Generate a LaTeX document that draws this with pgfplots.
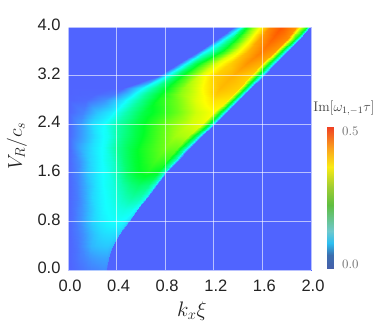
\RequirePackage{fix-cm}
\documentclass[border=0pt]{standalone}
\usepackage[no-math]{fontspec}
\setmainfont{Liberation Sans}
\usepackage{pgfplots}
\pgfplotsset{compat=1.18}
\definecolor{lab}{RGB}{35,35,35}
\pgfplotsset{
 colormap={heat}{rgb255(0pt)=(80,100,255) rgb255(18pt)=(20,255,255) rgb255(45pt)=(0,255,40) rgb255(72pt)=(255,255,0) rgb255(100pt)=(255,40,0)},
 colormap={bar}{rgb255(0pt)=(70,95,170) rgb255(10pt)=(60,110,175) rgb255(18pt)=(45,190,240) rgb255(27pt)=(110,200,205) rgb255(45pt)=(95,190,65) rgb255(58pt)=(160,205,50) rgb255(72pt)=(250,235,20) rgb255(85pt)=(250,160,30) rgb255(100pt)=(240,65,35)},
}
\begin{document}
\begin{tikzpicture}
\path[use as bounding box] (0pt,0pt) rectangle (382pt,329pt);
\begin{axis}[
 at={(68pt,59pt)},anchor=south west,
 scale only axis,width=243pt,height=243pt,
 xmin=0,xmax=2,ymin=0,ymax=4,
 view={0}{90},
 axis on top,
 colormap name=heat,point meta min=0,point meta max=0.5,
 xtick={0,0.4,0.8,1.2,1.6,2.0},ytick={0,0.8,1.6,2.4,3.2,4.0},
 xticklabels={0.0,0.4,0.8,1.2,1.6,2.0},yticklabels={0.0,0.8,1.6,2.4,3.2,4.0},
 major tick length=0pt,
 axis line style={draw=none},
 grid=major,
 major grid style={white,opacity=0.6,line width=0.9pt},
 tick label style={font=\fontsize{16.5}{18}\selectfont,text=lab},
 xticklabel style={xshift=2pt,yshift=-6pt},
 yticklabel style={yshift=2pt,xshift=-4pt},
 xlabel={$k_x\xi$},ylabel={$V_R/c_s$},
 xlabel style={font=\fontsize{21}{23}\selectfont,text=lab,at={(axis description cs:0.51,-0.169)},anchor=center},
 ylabel style={font=\fontsize{20}{22}\selectfont,text=lab,at={(axis description cs:-0.21,0.51)},anchor=center,rotate=0},
]
\addplot3[surf,shader=interp,mesh/cols=13,mesh/ordering=x varies] table {
0 0 0
0.03 0 0.002
0.06 0 0.004
0.10 0 0.008
0.13 0 0.011
0.16 0 0.014
0.19 0 0.016
0.22 0 0.018
0.26 0 0.021
0.29 0 0.023
0.312 0 0.02
0.32 0 0
2 0 0
0 0.2 0
0.034 0.2 0.004
0.068 0.2 0.008
0.10 0.2 0.014
0.136 0.2 0.02
0.17 0.2 0.026
0.2 0.2 0.03
0.24 0.2 0.034
0.27 0.2 0.036
0.31 0.2 0.037
0.332 0.2 0.032
0.34 0.2 0
2 0.2 0
0 0.4 0
0.04 0.4 0.005
0.07 0.4 0.01
0.11 0.4 0.02
0.15 0.4 0.033
0.19 0.4 0.047
0.22 0.4 0.052
0.26 0.4 0.056
0.30 0.4 0.058
0.33 0.4 0.058
0.36 0.4 0.05
0.37 0.4 0
2 0.4 0
0 0.6 0
0.04 0.6 0.007
0.09 0.6 0.016
0.13 0.6 0.028
0.17 0.6 0.043
0.21 0.6 0.056
0.26 0.6 0.066
0.3 0.6 0.07
0.34 0.6 0.072
0.39 0.6 0.07
0.42 0.6 0.06
0.43 0.6 0
2 0.6 0
0 0.8 0
0.05 0.8 0.01
0.1 0.8 0.025
0.15 0.8 0.045
0.2 0.8 0.063
0.26 0.8 0.078
0.31 0.8 0.085
0.36 0.8 0.09
0.41 0.8 0.09
0.46 0.8 0.085
0.495 0.8 0.07
0.51 0.8 0
2 0.8 0
0 1.0 0
0.06 1.0 0.012
0.12 1.0 0.032
0.17 1.0 0.052
0.23 1.0 0.072
0.29 1.0 0.086
0.35 1.0 0.095
0.41 1.0 0.105
0.46 1.0 0.11
0.52 1.0 0.105
0.565 1.0 0.08
0.58 1.0 0
2 1.0 0
0 1.2 0
0.07 1.2 0.014
0.13 1.2 0.036
0.2 1.2 0.066
0.26 1.2 0.082
0.33 1.2 0.095
0.4 1.2 0.115
0.46 1.2 0.135
0.53 1.2 0.15
0.59 1.2 0.14
0.645 1.2 0.10
0.66 1.2 0
2 1.2 0
0 1.4 0
0.07 1.4 0.016
0.15 1.4 0.045
0.22 1.4 0.072
0.29 1.4 0.09
0.37 1.4 0.11
0.44 1.4 0.14
0.51 1.4 0.17
0.58 1.4 0.185
0.66 1.4 0.17
0.71 1.4 0.115
0.73 1.4 0
2 1.4 0
0 1.6 0
0.08 1.6 0.02
0.16 1.6 0.055
0.24 1.6 0.08
0.32 1.6 0.098
0.41 1.6 0.14
0.49 1.6 0.19
0.57 1.6 0.22
0.65 1.6 0.235
0.73 1.6 0.22
0.785 1.6 0.13
0.81 1.6 0
2 1.6 0
0 1.8 0
0.09 1.8 0.025
0.18 1.8 0.065
0.27 1.8 0.088
0.36 1.8 0.12
0.45 1.8 0.175
0.54 1.8 0.215
0.63 1.8 0.24
0.72 1.8 0.26
0.81 1.8 0.25
0.875 1.8 0.14
0.905 1.8 0
2 1.8 0
0 2.0 0
0.1 2.0 0.04
0.2 2.0 0.072
0.3 2.0 0.095
0.4 2.0 0.155
0.5 2.0 0.2
0.6 2.0 0.235
0.7 2.0 0.26
0.8 2.0 0.285
0.9 2.0 0.28
0.965 2.0 0.15
1.0 2.0 0
2 2.0 0
0 2.2 0
0.11 2.2 0.032
0.22 2.2 0.072
0.33 2.2 0.10
0.44 2.2 0.16
0.55 2.2 0.205
0.66 2.2 0.24
0.77 2.2 0.275
0.88 2.2 0.31
0.99 2.2 0.32
1.065 2.2 0.17
1.105 2.2 0
2 2.2 0
0 2.4 0
0.1 2.4 0.03
0.2 2.4 0.07
0.3 2.4 0.09
0.4 2.4 0.14
0.55 2.4 0.2
0.7 2.4 0.25
0.85 2.4 0.295
1.0 2.4 0.335
1.1 2.4 0.35
1.165 2.4 0.2
1.21 2.4 0
2 2.4 0
0 2.6 0
0.12 2.6 0.018
0.24 2.6 0.055
0.36 2.6 0.08
0.48 2.6 0.14
0.62 2.6 0.205
0.76 2.6 0.24
0.9 2.6 0.28
1.05 2.6 0.335
1.2 2.6 0.36
1.265 2.6 0.19
1.31 2.6 0
2 2.6 0
0 2.8 0
0.15 2.8 0.004
0.3 2.8 0.025
0.45 2.8 0.075
0.6 2.8 0.16
0.75 2.8 0.24
0.9 2.8 0.285
1.05 2.8 0.345
1.2 2.8 0.38
1.31 2.8 0.375
1.365 2.8 0.2
1.41 2.8 0
2 2.8 0
0 2.9 0
0.22 2.9 0.002
0.38 2.9 0.012
0.5 2.9 0.06
0.64 2.9 0.155
0.78 2.9 0.235
0.92 2.9 0.3
1.08 2.9 0.35
1.22 2.9 0.395
1.36 2.9 0.385
1.415 2.9 0.2
1.46 2.9 0
2 2.9 0
0 3.0 0
0.35 3.0 0
0.45 3.0 0
0.6 3.0 0.08
0.7 3.0 0.15
0.8 3.0 0.215
0.95 3.0 0.3
1.1 3.0 0.36
1.25 3.0 0.405
1.41 3.0 0.39
1.465 3.0 0.2
1.51 3.0 0
2 3.0 0
0 3.2 0
0.6 3.2 0
0.74 3.2 0
0.8 3.2 0.08
0.88 3.2 0.18
0.97 3.2 0.26
1.08 3.2 0.34
1.2 3.2 0.39
1.35 3.2 0.41
1.5 3.2 0.39
1.565 3.2 0.2
1.61 3.2 0
2 3.2 0
0 3.4 0
0.7 3.4 0
0.91 3.4 0
0.97 3.4 0.08
1.04 3.4 0.18
1.12 3.4 0.26
1.22 3.4 0.34
1.33 3.4 0.39
1.47 3.4 0.43
1.6 3.4 0.41
1.665 3.4 0.21
1.71 3.4 0
2 3.4 0
0 3.6 0
0.85 3.6 0
1.08 3.6 0
1.13 3.6 0.08
1.2 3.6 0.15
1.28 3.6 0.24
1.38 3.6 0.34
1.48 3.6 0.41
1.6 3.6 0.445
1.7 3.6 0.425
1.765 3.6 0.22
1.81 3.6 0
2 3.6 0
0 3.8 0
1.0 3.8 0
1.23 3.8 0
1.275 3.8 0.08
1.33 3.8 0.16
1.4 3.8 0.25
1.48 3.8 0.34
1.57 3.8 0.42
1.68 3.8 0.46
1.8 3.8 0.435
1.865 3.8 0.23
1.91 3.8 0
2 3.8 0
0 4.0 0
1.15 4.0 0
1.37 4.0 0
1.42 4.0 0.09
1.46 4.0 0.2
1.52 4.0 0.3
1.58 4.0 0.36
1.66 4.0 0.44
1.75 4.0 0.47
1.88 4.0 0.43
1.96 4.0 0.25
1.995 4.0 0
2 4.0 0
};
\end{axis}
\begin{axis}[
 at={(327pt,60pt)},anchor=south west,
 scale only axis,width=7pt,height=142pt,
 xmin=0,xmax=1,ymin=0,ymax=0.5,
 view={0}{90},hide axis,
 colormap name=bar,point meta min=0,point meta max=0.5,
]
\addplot3[surf,shader=interp,mesh/cols=2,mesh/ordering=x varies] table {
0 0 0
1 0 0
0 0.05 0.05
1 0.05 0.05
0 0.09 0.09
1 0.09 0.09
0 0.135 0.135
1 0.135 0.135
0 0.225 0.225
1 0.225 0.225
0 0.29 0.29
1 0.29 0.29
0 0.36 0.36
1 0.36 0.36
0 0.425 0.425
1 0.425 0.425
0 0.5 0.5
1 0.5 0.5
};
\end{axis}
\node[font=\fontsize{14}{15}\selectfont,text=black!75,anchor=center] at (344pt,221pt) {$\mathrm{Im}[\omega_{1,-1}\tau]$};
\node[font=\fontsize{13}{14}\selectfont,text=black!60,anchor=west,inner sep=0pt] at (342pt,198pt) {$0.5$};
\node[font=\fontsize{13}{14}\selectfont,text=black!60,anchor=west,inner sep=0pt] at (342pt,65pt) {$0.0$};
\end{tikzpicture}
\end{document}
